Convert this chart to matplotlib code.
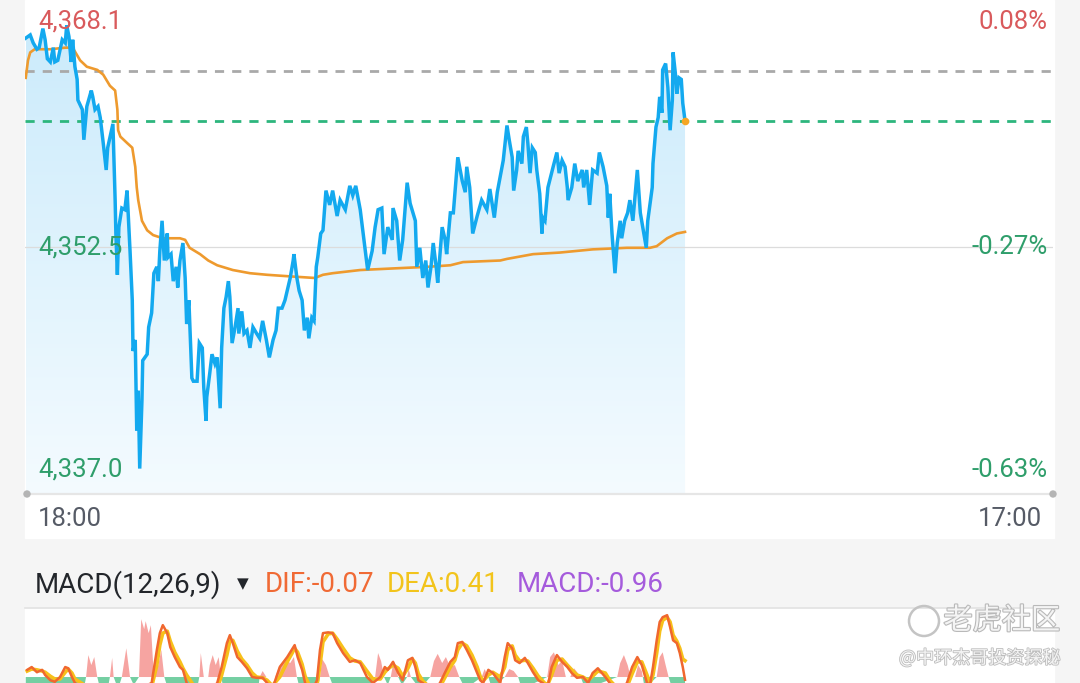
import numpy as np
import matplotlib.pyplot as plt
from matplotlib.colors import LinearSegmentedColormap
from matplotlib.patches import Rectangle, Circle
from matplotlib.lines import Line2D
import matplotlib.patheffects as pe

# minutes since 18:00 and last price
price_t = [1, 7, 11, 16, 19, 24, 27, 30, 34, 38,
           40, 44, 50, 54, 56, 59, 62, 64, 67, 70,
           71, 77, 79, 83, 89, 91, 94, 98, 101, 105,
           109, 111, 117, 118, 121, 122, 124, 126, 130, 134,
           137, 141, 144, 145, 148, 150, 152, 154, 157, 158,
           164, 166, 170, 173, 177, 179, 181, 184, 187, 191,
           192, 196, 199, 203, 205, 208, 212, 215, 217, 220,
           224, 226, 231, 234, 238, 240, 243, 244, 248, 251,
           255, 258, 262, 264, 267, 270, 273, 275, 278, 282,
           286, 287, 291, 294, 298, 302, 306, 311, 315, 319,
           324, 328, 333, 337, 340, 345, 349, 352, 356, 360,
           361, 365, 368, 372, 375, 379, 381, 385, 388, 391,
           393, 397, 400, 404, 409, 413, 419, 423, 430, 436,
           440, 444, 450, 454, 460, 466, 470, 474, 479, 482,
           487, 493, 494, 499, 503, 507, 513, 517, 524, 526,
           530, 534, 538, 541, 545, 548, 552, 554, 560, 564,
           566, 571, 575, 581, 587, 591, 593, 597, 601, 607,
           613, 620, 624, 630, 634, 642, 647, 650, 654, 656,
           660, 662, 667, 669, 673, 675, 678, 681, 685, 687,
           691, 694, 695, 698, 702, 709, 714, 717, 721, 725,
           728, 729, 734, 738, 742, 748, 750, 754, 758, 762,
           768, 771, 776, 781, 783, 785, 788, 792, 795, 799,
           801, 805, 809, 812, 816, 822, 826, 830, 834, 836,
           842, 843, 847, 850, 852, 855, 856, 860, 863, 866,
           869, 870, 873, 875, 878, 881, 883, 886]
price = [4365.7, 4365.9, 4365.4, 4365.0, 4365.1, 4366.3, 4365.6, 4364.4, 4364.2, 4365.1,
         4364.2, 4364.3, 4365.6, 4365.4, 4366.5, 4365.8, 4364.2, 4365.6, 4363.9, 4363.1,
         4361.8, 4361.2, 4359.3, 4361.4, 4362.4, 4362.0, 4361.2, 4361.4, 4360.7, 4359.1,
         4357.4, 4358.8, 4360.1, 4360.3, 4355.5, 4353.4, 4350.8, 4353.8, 4355.0, 4354.9,
         4356.1, 4352.3, 4349.2, 4346.0, 4346.7, 4341.0, 4343.5, 4338.6, 4342.9, 4345.4,
         4345.8, 4347.5, 4348.4, 4350.9, 4351.3, 4350.4, 4352.3, 4354.2, 4351.7, 4353.4,
         4351.9, 4352.1, 4350.4, 4351.3, 4350.0, 4351.7, 4352.8, 4350.6, 4347.7, 4349.2,
         4344.3, 4344.1, 4344.1, 4346.5, 4346.2, 4343.7, 4341.6, 4343.1, 4344.6, 4345.8,
         4345.2, 4345.6, 4342.4, 4346.2, 4348.7, 4349.4, 4350.4, 4349.4, 4346.5, 4347.5,
         4348.7, 4347.1, 4348.5, 4347.1, 4347.3, 4346.2, 4347.5, 4347.1, 4346.8, 4347.9,
         4346.7, 4345.6, 4346.7, 4347.3, 4348.7, 4348.7, 4349.2, 4349.8, 4350.6, 4351.7,
         4352.1, 4350.6, 4349.8, 4349.2, 4347.3, 4348.1, 4346.8, 4348.1, 4347.9, 4351.3,
         4351.9, 4353.4, 4353.6, 4356.1, 4355.2, 4356.1, 4354.5, 4355.5, 4354.9, 4356.4,
         4355.8, 4356.4, 4354.9, 4353.4, 4351.1, 4352.3, 4353.8, 4354.9, 4355.0, 4352.1,
         4353.8, 4353.0, 4355.0, 4354.2, 4351.7, 4353.0, 4356.6, 4355.3, 4354.2, 4351.3,
         4352.5, 4350.6, 4351.7, 4350.0, 4351.3, 4352.8, 4351.3, 4350.3, 4353.8, 4353.0,
         4352.1, 4354.7, 4354.7, 4358.2, 4356.7, 4356.0, 4357.6, 4356.3, 4353.4, 4354.5,
         4355.5, 4354.9, 4356.2, 4354.4, 4356.0, 4358.0, 4360.2, 4359.3, 4358.2, 4356.1,
         4357.4, 4358.6, 4357.8, 4359.5, 4360.1, 4359.1, 4357.2, 4358.8, 4358.5, 4357.4,
         4355.9, 4353.4, 4354.4, 4354.2, 4356.3, 4357.6, 4358.5, 4357.2, 4358.0, 4357.6,
         4356.3, 4355.5, 4356.3, 4357.8, 4356.7, 4357.4, 4356.3, 4357.4, 4355.2, 4357.4,
         4357.2, 4358.5, 4357.6, 4356.4, 4354.4, 4355.9, 4353.4, 4350.9, 4352.8, 4354.2,
         4353.1, 4354.2, 4354.7, 4355.5, 4354.2, 4357.4, 4354.7, 4353.6, 4352.5, 4354.2,
         4356.3, 4357.8, 4360.1, 4360.7, 4362.0, 4361.0, 4363.7, 4364.1, 4362.6, 4359.9,
         4361.8, 4364.8, 4363.5, 4362.2, 4363.2, 4363.1, 4361.6, 4360.5]

# average price line
avg_t = [1, 4, 7, 13, 34, 54, 64, 74, 83, 97, 105, 114, 121, 124, 125, 128, 137, 144, 148, 150,
         152, 157, 164, 172, 185, 208, 215, 221, 235, 246, 258, 279, 302, 325, 356, 389, 400, 413,
         450, 494, 540, 571, 588, 638, 647, 682, 718, 762, 808, 839, 848, 862, 875, 886]
avg = [4363.2, 4364.3, 4364.8, 4365.0, 4365.0, 4365.1, 4365.1, 4364.3, 4363.9, 4363.7,
       4363.4, 4362.7, 4362.4, 4361.2, 4359.9, 4359.5, 4359.1, 4358.8, 4357.6, 4356.3,
       4355.5, 4354.2, 4353.6, 4353.3, 4353.1, 4353.1, 4353.0, 4352.5, 4352.1, 4351.7,
       4351.4, 4351.1, 4350.9, 4350.8, 4350.7, 4350.6, 4350.8, 4350.9,
       4351.1, 4351.2, 4351.3, 4351.4, 4351.6, 4351.7, 4351.8, 4352.1, 4352.2, 4352.4,
       4352.5, 4352.5, 4352.6, 4353.1, 4353.4, 4353.5]

y_top, y_bot = 4368.1, 4337.0
ref_line = 4363.6      # grey dashed
last_line = 4360.5     # green dashed
y_labels = ["4,368.1", "4,352.5", "4,337.0"]
pct_labels = ["0.08%", "-0.27%", "-0.63%"]
x_labels = ["18:00", "17:00"]

# MACD panel
dif_t = [3, 9, 16, 23, 27, 34, 40, 47, 54, 58, 63, 67, 101, 141, 170, 177, 181, 185, 191, 195,
         201, 208, 212, 217, 235, 258, 264, 271, 275, 279, 285, 291, 298, 305, 311, 319, 325, 332, 342, 352,
         358, 362, 366, 372, 376, 384, 392, 396, 400, 407, 413, 419, 427, 436, 443, 450, 459, 467, 477, 483,
         487, 494, 501, 507, 514, 520, 524, 528, 534, 546, 557, 564, 571, 577, 581, 587, 593, 600, 607, 611,
         615, 622, 628, 638, 644, 648, 654, 658, 664, 671, 675, 682, 689, 695, 701, 707, 714, 721, 728, 734,
         741, 749, 756, 762, 769, 779, 785, 796, 808, 815, 822, 828, 835, 839, 843, 848, 852, 856, 862, 866,
         870, 875, 879, 883, 886]
dif = [0.18, 0.25, 0.12, 0.18, 0.05, -0.08, -0.12, 0.0, 0.25, 0.22,
       0.0, -0.15, -0.6, -0.4, -0.15, 0.68, 1.1, 1.3, 1.1, 0.75,
       0.5, 0.25, 0.18, -0.15, -0.6, -0.15, 0.25, 0.85, 1.05, 0.85,
       0.5, 0.38, 0.22, 0.0, -0.02, -0.02, -0.15, -0.3, 0.25, 0.5,
       0.68, 0.8, 0.5, 0.18, -0.15, -0.4, -0.08, 0.68, 1.1, 1.12,
       1.1, 0.85, 0.6, 0.38, 0.42, 0.35, 0.0, -0.15, 0.0, 0.25,
       0.18, 0.38, 0.1, -0.08, 0.42, 0.48, 0.25, -0.08, -0.15, -0.4,
       -0.15, 0.12, 0.38, 0.5, 0.85, 0.88, 0.68, 0.42, 0.1, -0.08,
       -0.15, 0.18, 0.1, -0.15, 0.5, 0.85, 0.72, 0.42, 0.35, 0.48,
       0.35, 0.12, -0.08, -0.15, -0.3, 0.25, 0.55, 0.38, 0.25, 0.1,
       -0.02, 0.0, -0.15, 0.1, 0.22, 0.0, -0.15, -0.4, -0.15, 0.25,
       0.5, 0.3, -0.15, -0.2, 0.25, 0.92, 1.38, 1.5, 1.55, 1.25,
       0.92, 0.85, 0.6, 0.25, -0.07]
dea = [0.15, 0.2, 0.18, 0.15, 0.12, 0.02, -0.05, -0.05, 0.12, 0.2,
       0.1, -0.05, -0.45, -0.45, -0.25, 0.3, 0.8, 1.1, 1.15, 0.9,
       0.62, 0.38, 0.22, 0.05, -0.45, -0.3, 0.05, 0.55, 0.9, 0.92,
       0.65, 0.45, 0.3, 0.1, 0.0, -0.02, -0.08, -0.22, 0.0, 0.38,
       0.58, 0.72, 0.62, 0.32, 0.02, -0.3, -0.2, 0.3, 0.88, 1.08,
       1.1, 0.95, 0.72, 0.48, 0.4, 0.38, 0.15, -0.05, -0.05, 0.12,
       0.2, 0.3, 0.22, 0.02, 0.22, 0.45, 0.35, 0.08, -0.1, -0.3,
       -0.25, 0.0, 0.25, 0.42, 0.68, 0.85, 0.78, 0.55, 0.25, 0.02,
       -0.1, 0.05, 0.12, 0.0, 0.25, 0.68, 0.78, 0.55, 0.4, 0.42,
       0.4, 0.22, 0.02, -0.1, -0.22, 0.05, 0.42, 0.45, 0.3, 0.18,
       0.05, 0.0, -0.08, 0.02, 0.15, 0.1, -0.08, -0.3, -0.25, 0.08,
       0.38, 0.38, 0.05, -0.15, 0.05, 0.6, 1.15, 1.42, 1.5, 1.38,
       1.05, 0.9, 0.72, 0.45, 0.41]
hist_t = [1, 79, 82, 85, 89, 93, 97, 101, 111, 114, 117, 119, 125, 130, 136, 141, 146, 153, 156, 160,
          162, 166, 169, 173, 179, 183, 187, 192, 231, 234, 236, 240, 246, 248, 252, 256, 260, 263, 267, 313,
          315, 319, 324, 336, 342, 349, 356, 361, 365, 369, 393, 396, 399, 404, 409, 415, 467, 470, 474, 478,
          482, 487, 491, 495, 501, 506, 513, 515, 518, 530, 544, 549, 554, 560, 565, 571, 577, 583, 591, 613,
          617, 622, 627, 644, 650, 656, 662, 667, 701, 705, 710, 716, 721, 726, 732, 737, 742, 746, 752, 795,
          799, 804, 809, 813, 819, 823, 828, 832, 848, 852, 856, 860, 864, 869, 886]
hist = [-0.3, -0.3, 0.0, 0.55, 0.3, 0.5, 0.0, -0.3, -0.3, 0.0,
        0.48, 0.0, -0.3, 0.0, 0.72, 0.0, -0.2, 0.0, 1.45, 1.2,
        1.4, 1.1, 1.3, 0.0, 0.3, 0.68, 0.0, -0.3, -0.3, 0.0,
        0.6, 0.0, 0.0, 0.3, 0.55, 0.3, 0.5, 0.0, -0.3, -0.3,
        0.0, 0.15, 0.0, 0.0, 0.3, 0.45, 0.35, 0.5, 0.0, -0.3,
        -0.3, 0.0, 0.45, 0.3, 0.0, -0.3, -0.3, 0.0, 0.6, 0.4,
        0.0, -0.2, 0.0, 0.42, 0.0, -0.2, 0.0, 0.2, 0.0, -0.3,
        0.0, 0.4, 0.58, 0.35, 0.5, 0.25, 0.3, 0.0, -0.3, 0.0,
        0.2, 0.0, -0.3, 0.0, 0.2, 0.15, 0.0, -0.3, 0.0, 0.5,
        0.62, 0.3, 0.42, 0.0, 0.0, 0.22, 0.1, 0.0, -0.3, 0.0,
        0.35, 0.55, 0.3, 0.0, 0.0, 0.3, 0.15, -0.3, 0.0, 0.5,
        0.62, 0.3, 0.0, -0.3, -0.96]

W, H = 1080, 683
FONT = "Roboto"
RED = "#d95a5c"
GREEN = "#2f9e6b"


def fx(x):
    return x / W


def fy(y):
    return 1 - y / H


fig = plt.figure(figsize=(W / 100, H / 100), dpi=100)
fig.patch.set_facecolor("#f5f5f5")
inch = fig.dpi_scale_trans  # for round shapes (pixels / 100)

# white panels (behind the axes)
fig.patches.append(Rectangle((fx(25), fy(538)), fx(1054) - fx(25), fy(0) - fy(538),
                             transform=fig.transFigure, color="white", zorder=-2))
fig.patches.append(Rectangle((fx(25), 0), fx(1054) - fx(25), fy(608),
                             transform=fig.transFigure, color="white", zorder=-2))

# ---- price panel ----
ax = fig.add_axes([fx(25), fy(494), fx(1053) - fx(25), 494 / H])
ax.set_facecolor("none")

grad = np.linspace(0, 1, 256).reshape(-1, 1)
cmap = LinearSegmentedColormap.from_list("fill", ["#f4fbff", "#c9eafb"])
im = ax.imshow(grad, extent=[price_t[0], price_t[-1], y_bot, y_top], origin="lower",
               aspect="auto", cmap=cmap, zorder=1)
poly = ax.fill_between(price_t, price, y_bot, color="none", lw=0)
im.set_clip_path(poly.get_paths()[0], transform=ax.transData)

ax.axhline((y_top + y_bot) / 2, color="#dcdcdc", lw=0.9, zorder=2)
ax.axhline(ref_line, color="#a9a9a9", lw=2.0, dashes=(3.3, 2.9), zorder=2)
ax.axhline(last_line, color="#2db67d", lw=2.0, dashes=(3.3, 2.9), zorder=2)
ax.plot(avg_t, avg, color="#ee9a2e", lw=1.9, zorder=3)
ax.plot(price_t, price, color="#13a9ef", lw=2.5, zorder=4, solid_joinstyle="miter")
ax.scatter([price_t[-1]], [price[-1]], s=30, color="#f5a623", zorder=5, lw=0)

ax.set_xlim(0, 1380)
ax.set_ylim(y_bot, y_top)
ax.axis("off")

# bottom axis line with end dots
fig.add_artist(Line2D([fx(25), fx(1053)], [fy(494), fy(494)], transform=fig.transFigure,
                      color="#e6e6e6", lw=1.6))
for xd in (27, 1053):
    fig.add_artist(Circle((xd / 100, (H - 494) / 100), 0.03, transform=inch,
                          color="#b4b4b4", zorder=5))

# axis labels
fs = 18.5
fig.text(fx(38), fy(22), y_labels[0], color=RED, fontsize=fs, family=FONT, va="center")
fig.text(fx(38), fy(247), y_labels[1], color=GREEN, fontsize=fs, family=FONT, va="center")
fig.text(fx(38), fy(470), y_labels[2], color=GREEN, fontsize=fs, family=FONT, va="center")
fig.text(fx(1048), fy(22), pct_labels[0], color=RED, fontsize=fs, family=FONT, va="center", ha="right")
fig.text(fx(1048), fy(247), pct_labels[1], color=GREEN, fontsize=fs, family=FONT, va="center", ha="right")
fig.text(fx(1048), fy(470), pct_labels[2], color=GREEN, fontsize=fs, family=FONT, va="center", ha="right")
fig.text(fx(38), fy(519), x_labels[0], color="#565b66", fontsize=fs, family=FONT, va="center")
fig.text(fx(1042), fy(519), x_labels[1], color="#565b66", fontsize=fs, family=FONT, va="center", ha="right")

# ---- MACD header ----
hs = 20
fig.text(fx(35), fy(585), "MACD(12,26,9)", color="#23262b", fontsize=hs, family=FONT, va="center")
fig.text(fx(243), fy(584), "▼", color="#23262b", fontsize=11, family="DejaVu Sans", va="center", ha="center")
fig.text(fx(265), fy(585), "DIF:-0.07", color="#f06a35", fontsize=hs, family=FONT, va="center")
fig.text(fx(387), fy(585), "DEA:0.41", color="#f2c41c", fontsize=hs, family=FONT, va="center")
fig.text(fx(517), fy(585), "MACD:-0.96", color="#a55bdc", fontsize=hs, family=FONT, va="center")
fig.add_artist(Line2D([fx(25), fx(1054)], [fy(608), fy(608)], transform=fig.transFigure,
                      color="#e2e2e2", lw=1.2))

# ---- MACD panel ----
mx = fig.add_axes([fx(25), 0, fx(1053) - fx(25), fy(610)])
mx.set_facecolor("none")
ht = np.array(hist_t)
hv = np.array(hist)
mx.fill_between(ht, hv, 0, where=hv >= 0, interpolate=True, color="#f6a4a1", lw=0, zorder=1)
mx.fill_between(ht, hv, 0, where=hv <= 0, interpolate=True, color="#74cfa2", lw=0, zorder=1)
mx.plot(dif_t, dea, color="#f7c01a", lw=2.6, zorder=2)
mx.plot(dif_t, dif, color="#f0672e", lw=1.8, zorder=3)
mx.set_xlim(0, 1380)
mx.set_ylim(-0.15, 1.68)
mx.axis("off")

# watermark
fig.add_artist(Circle((924 / 100, (H - 621) / 100), 0.15, transform=inch,
                      fill=False, ec="#c4c4c4", lw=1.8, zorder=6))
fig.text(fx(1060), fy(621), "老虎社区", color="#f4f4f4", fontsize=21,
         family=["Noto Sans CJK SC", "DejaVu Sans"], va="center", ha="right",
         path_effects=[pe.withStroke(linewidth=1.6, foreground="#b9b9b9")], zorder=6)
fig.text(fx(1060), fy(658), "@中环杰哥投资探秘", color="#f4f4f4", fontsize=13,
         family=["Noto Sans CJK SC", "DejaVu Sans"], va="center", ha="right",
         path_effects=[pe.withStroke(linewidth=1.2, foreground="#bdbdbd")], zorder=6)

fig.savefig("out.png", dpi=100, facecolor=fig.get_facecolor())
